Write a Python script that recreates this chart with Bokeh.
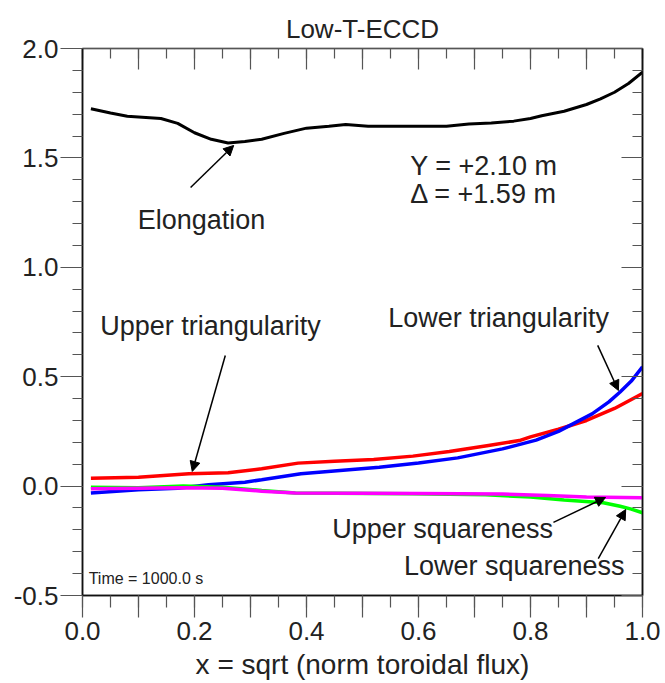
from bokeh.plotting import figure
from bokeh.models import (LinearAxis, FixedTicker, CustomJSTickFormatter, Label,
                          Arrow, NormalHead, Range1d)
from bokeh.embed import file_html
from bokeh.resources import INLINE

FONT = "Liberation Sans"

# Shape parameters versus sqrt of normalised toroidal flux
rho_elong = [0.015, 0.05, 0.08, 0.14, 0.17, 0.20, 0.23, 0.26, 0.29, 0.32, 0.36,
             0.40, 0.44, 0.47, 0.51, 0.55, 0.60, 0.65, 0.69, 0.73, 0.77, 0.80,
             0.82, 0.86, 0.90, 0.925, 0.95, 0.975, 1.0]
elongation = [1.725, 1.705, 1.690, 1.680, 1.658, 1.615, 1.585, 1.568, 1.575, 1.585,
              1.612, 1.636, 1.645, 1.653, 1.645, 1.645, 1.645, 1.645, 1.655, 1.660,
              1.668, 1.680, 1.693, 1.713, 1.744, 1.770, 1.800, 1.840, 1.892]

rho_utri = [0.015, 0.10, 0.19, 0.26, 0.32, 0.385, 0.45, 0.52, 0.59, 0.655, 0.725,
            0.78, 0.80, 0.85, 0.90, 0.95, 1.0]
upper_tri = [0.036, 0.041, 0.056, 0.061, 0.079, 0.105, 0.114, 0.122, 0.137, 0.158,
             0.186, 0.208, 0.225, 0.260, 0.300, 0.355, 0.423]

rho_ltri = [0.015, 0.10, 0.17, 0.225, 0.29, 0.32, 0.39, 0.46, 0.53, 0.60, 0.67,
            0.75, 0.81, 0.85, 0.88, 0.91, 0.94, 0.96, 0.98, 1.0]
lower_tri = [-0.031, -0.017, -0.010, 0.006, 0.018, 0.029, 0.056, 0.071, 0.086, 0.106,
             0.129, 0.170, 0.210, 0.250, 0.290, 0.330, 0.385, 0.430, 0.480, 0.545]

rho_lsq = [0.015, 0.10, 0.18, 0.25, 0.32, 0.38, 0.59, 0.72, 0.80, 0.86, 0.93, 0.96,
           0.98, 1.0]
lower_sq = [-0.005, -0.008, 0.000, -0.005, -0.020, -0.031, -0.035, -0.040, -0.050,
            -0.063, -0.076, -0.092, -0.105, -0.122]

rho_usq = [0.015, 0.18, 0.25, 0.32, 0.38, 0.60, 0.75, 0.83, 0.90, 1.0]
upper_sq = [-0.012, -0.008, -0.010, -0.023, -0.032, -0.034, -0.036, -0.043, -0.050,
            -0.053]

x_major = [0.0, 0.1, 0.2, 0.3, 0.4, 0.5, 0.6, 0.7, 0.8, 0.9, 1.0]
x_minor = [0.0, 0.05, 0.1, 0.15, 0.2, 0.25, 0.3, 0.35, 0.4, 0.45, 0.5, 0.55, 0.6,
           0.65, 0.7, 0.75, 0.8, 0.85, 0.9, 0.95, 1.0]
y_major = [-0.5, 0.0, 0.5, 1.0, 1.5, 2.0]
y_minor = [-0.5, -0.4, -0.3, -0.2, -0.1, 0.0, 0.1, 0.2, 0.3, 0.4, 0.5, 0.6, 0.7,
           0.8, 0.9, 1.0, 1.1, 1.2, 1.3, 1.4, 1.5, 1.6, 1.7, 1.8, 1.9, 2.0]

p = figure(width=665, height=683, x_range=Range1d(0, 1), y_range=Range1d(-0.5, 2.0),
           output_backend="svg", toolbar_location=None,
           min_border_left=82, min_border_right=23, min_border_top=48,
           min_border_bottom=88, background_fill_color="white",
           border_fill_color="white")
p.xgrid.visible = False
p.ygrid.visible = False
p.outline_line_color = "#111111"
p.outline_line_width = 1.5

p.title.text = "Low-T-ECCD"
p.title.align = "center"
p.title.text_font = FONT
p.title.text_font_size = "26px"
p.title.text_font_style = "normal"
p.title.text_color = "#222222"

xt = FixedTicker(ticks=x_major, minor_ticks=x_minor)
yt = FixedTicker(ticks=y_major, minor_ticks=y_minor)
blank = CustomJSTickFormatter(code="return '';")

xb = p.xaxis[0]
xb.ticker = xt
xb.formatter = CustomJSTickFormatter(
    code="return (Math.round(tick*10) % 2 == 0) ? tick.toFixed(1) : '';")
xb.axis_label = "x = sqrt (norm toroidal flux)"
xb.major_tick_out = 22
xb.major_tick_in = 0
xb.minor_tick_out = 12
xb.minor_tick_in = 0
xb.major_label_standoff = 4
xb.axis_label_standoff = 6

yl = p.yaxis[0]
yl.ticker = yt
yl.formatter = CustomJSTickFormatter(code="return tick.toFixed(1);")
yl.major_tick_out = 22
yl.major_tick_in = 0
yl.minor_tick_out = 10
yl.minor_tick_in = 0
yl.major_label_standoff = 2
yl.major_label_orientation = "horizontal"

for ax in (xb, yl):
    ax.major_label_text_font = FONT
    ax.major_label_text_font_size = "26px"
    ax.major_label_text_color = "#222222"
    ax.axis_label_text_font = FONT
    ax.axis_label_text_font_size = "28px"
    ax.axis_label_text_font_style = "normal"
    ax.axis_label_text_color = "#222222"
    ax.axis_line_color = "#111111"
    ax.axis_line_width = 1.5
    ax.major_tick_line_color = "#555555"
    ax.minor_tick_line_color = "#555555"
    ax.major_tick_line_width = 1.2
    ax.minor_tick_line_width = 1.2

xtop = LinearAxis(ticker=xt, formatter=blank, major_tick_in=21, major_tick_out=0,
                  minor_tick_in=10, minor_tick_out=0, major_label_text_font_size="0px",
                  axis_line_color="#555555", major_tick_line_color="#555555",
                  minor_tick_line_color="#555555", major_tick_line_width=1.2,
                  minor_tick_line_width=1.2)
yright = LinearAxis(ticker=yt, formatter=blank, major_tick_in=21, major_tick_out=0,
                    minor_tick_in=10, minor_tick_out=0, major_label_text_font_size="0px",
                    axis_line_color="#111111", axis_line_width=1.5,
                    major_tick_line_color="#555555", minor_tick_line_color="#555555",
                    major_tick_line_width=1.2, minor_tick_line_width=1.2)
p.add_layout(xtop, "above")
p.add_layout(yright, "right")

p.line(rho_elong, elongation, line_color="black", line_width=3)
p.line(rho_utri, upper_tri, line_color="#ff0000", line_width=3.5)
p.line(rho_ltri, lower_tri, line_color="#0000ff", line_width=3.5)
p.line(rho_lsq, lower_sq, line_color="#00ff00", line_width=3.5)
p.line(rho_usq, upper_sq, line_color="#ff00ff", line_width=3.5)


def add_label(x, y, text, size="27px", align="center"):
    p.add_layout(Label(x=x, y=y, text=text, text_font=FONT, text_font_size=size,
                       text_color="#222222", text_align=align,
                       text_baseline="middle"))


add_label(0.2125, 1.218, "Elongation")
add_label(0.848, 1.461, "Y = +2.10 m", align="right")
add_label(0.848, 1.337, "\u0394 = +1.59 m", align="right")
add_label(0.2286, 0.734, "Upper triangularity")
add_label(0.743, 0.766, "Lower triangularity")
add_label(0.643, -0.198, "Upper squareness")
add_label(0.771, -0.363, "Lower squareness")
add_label(0.011, -0.422, "Time = 1000.0 s", size="16px", align="left")


def add_arrow(x0, y0, x1, y1):
    p.add_layout(Arrow(end=NormalHead(size=10, fill_color="black",
                                      line_color="black"),
                       x_start=x0, y_start=y0, x_end=x1, y_end=y1,
                       line_color="black", line_width=1.5))


add_arrow(0.193, 1.365, 0.270, 1.557)
add_arrow(0.255, 0.597, 0.196, 0.067)
add_arrow(0.920, 0.643, 0.957, 0.437)
add_arrow(0.841, -0.166, 0.934, -0.052)
add_arrow(0.921, -0.331, 0.970, -0.107)

open("out.html", "w").write(file_html(p, INLINE))
